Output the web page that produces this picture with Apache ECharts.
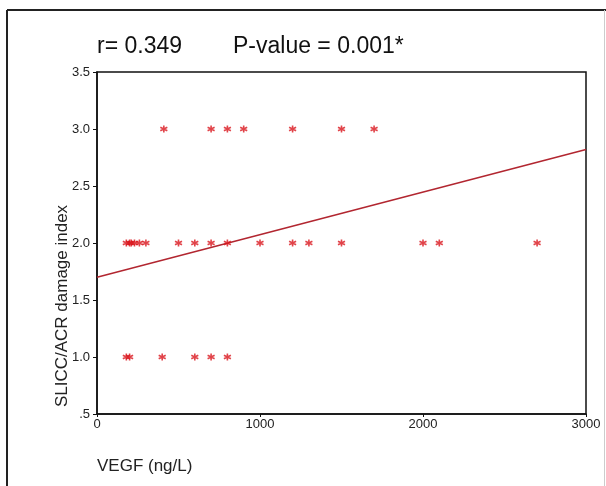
<!DOCTYPE html>
<html>
<head>
<meta charset="utf-8">
<script src="https://cdn.jsdelivr.net/npm/echarts@6/dist/echarts.min.js"></script>
<style>
  html, body { margin: 0; padding: 0; background: #fff; }
  #chart { width: 606px; height: 486px; }
</style>
</head>
<body>
<div id="chart"></div>
<script>
// observed points (VEGF ng/L vs SLICC/ACR damage index)
var vegf = [410, 700, 800, 900, 1200, 1500, 1700,
            180, 200, 210, 230, 260, 300, 500, 600, 700, 800, 1000, 1200, 1300, 1500, 2000, 2100, 2700,
            180, 200, 400, 600, 700, 800];
var damage = [3, 3, 3, 3, 3, 3, 3,
              2, 2, 2, 2, 2, 2, 2, 2, 2, 2, 2, 2, 2, 2, 2, 2, 2,
              1, 1, 1, 1, 1, 1];

// fitted regression line end points
var fitX = [0, 3000];
var fitY = [1.70, 2.82];

var yTicks = [0.5, 1.0, 1.5, 2.0, 2.5, 3.0, 3.5];
var xTicks = [0, 1000, 2000, 3000];

var points = vegf.map(function (v, i) { return [v, damage[i]]; });
var fitLine = fitX.map(function (v, i) { return [v, fitY[i]]; });

var font = "'Liberation Sans', Arial, sans-serif";
var chart = echarts.init(document.getElementById('chart'));

var option = {
    backgroundColor: '#fff',
    animation: false,
    title: [
        { text: 'r= 0.349', left: 92, top: 30,
          textStyle: { fontFamily: font, fontSize: 23, fontWeight: 'normal', color: '#111' } },
        { text: 'P-value = 0.001*', left: 228, top: 30,
          textStyle: { fontFamily: font, fontSize: 23, fontWeight: 'normal', color: '#111' } }
    ],
    grid: { left: 97, right: 20, top: 72, bottom: 72, show: true, borderColor: '#111', borderWidth: 1.5 },
    xAxis: {
        type: 'value',
        min: xTicks[0], max: xTicks[xTicks.length - 1], interval: 1000,
        splitLine: { show: false },
        axisLine: { show: true, lineStyle: { color: '#111', width: 1.5 } },
        axisTick: { show: true, length: 3, lineStyle: { color: '#111' } },
        axisLabel: { margin: 4, color: '#222', fontFamily: font, fontSize: 13,
                     formatter: function (v) { return String(v); } }
    },
    yAxis: {
        type: 'value',
        min: yTicks[0], max: yTicks[yTicks.length - 1], interval: 0.5,
        splitLine: { show: false },
        axisLine: { show: true, lineStyle: { color: '#111', width: 1.5 } },
        axisTick: { show: true, length: 4, lineStyle: { color: '#111' } },
        axisLabel: {
            margin: 7, color: '#222', fontFamily: font, fontSize: 13,
            formatter: function (v) { return v === 0.5 ? '.5' : v.toFixed(1); }
        }
    },
    graphic: [
        { type: 'line', silent: true, shape: { x1: 7, y1: 10, x2: 606, y2: 10 },
          style: { stroke: '#222', lineWidth: 2 } },
        { type: 'line', silent: true, shape: { x1: 7, y1: 10, x2: 7, y2: 486 },
          style: { stroke: '#222', lineWidth: 2 } },
        { type: 'line', silent: true, shape: { x1: 604.5, y1: 10, x2: 604.5, y2: 486 },
          style: { stroke: '#ccc', lineWidth: 1 } },
        { type: 'text', x: 54, y: 306, rotation: Math.PI / 2,
          style: { text: 'SLICC/ACR damage index', fontFamily: font, fontSize: 17,
                   fill: '#222', align: 'center', verticalAlign: 'top' } },
        { type: 'text', x: 97, y: 458,
          style: { text: 'VEGF (ng/L)', fontFamily: font, fontSize: 17, fill: '#222' } }
    ],
    series: [
        {
            type: 'line',
            data: fitLine,
            symbol: 'none',
            lineStyle: { color: '#b22630', width: 1.5 },
            z: 2
        },
        {
            type: 'scatter',
            data: points,
            symbol: 'path://M0,-5L0,5M-4.33,-2.5L4.33,2.5M-4.33,2.5L4.33,-2.5',
            symbolSize: 7,
            itemStyle: { color: 'none', borderColor: '#d9141c', borderWidth: 1.6 },
            z: 3
        }
    ]
};

chart.setOption(option);
</script>
</body>
</html>
